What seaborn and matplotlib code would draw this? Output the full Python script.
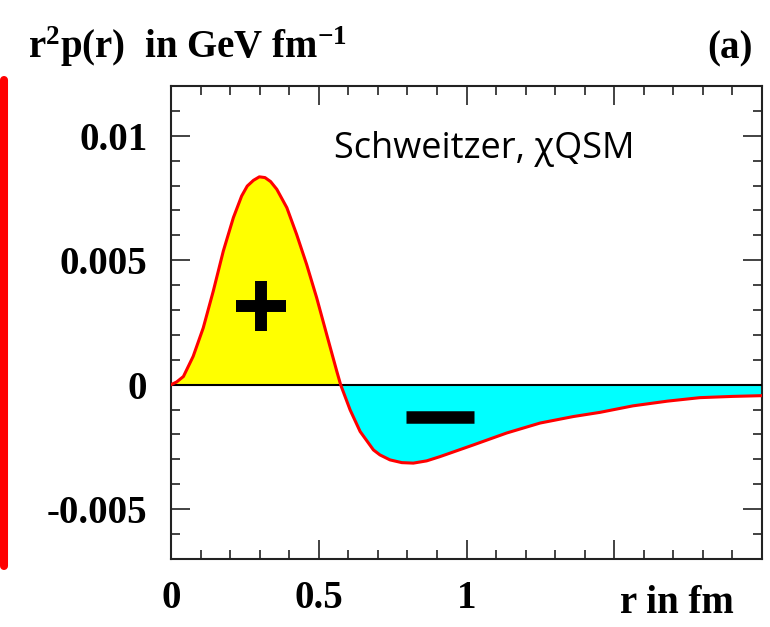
import numpy as np
import pandas as pd
import matplotlib
matplotlib.use("Agg")
import matplotlib.pyplot as plt
import seaborn as sns
from matplotlib.ticker import MultipleLocator, FixedLocator
from matplotlib.lines import Line2D

#***DATOS***

r_fm = [0.0, 0.019, 0.042, 0.075, 0.109, 0.143, 0.177, 0.211, 0.239, 0.258, 0.279, 0.299, 0.318,
        0.337, 0.358, 0.392, 0.425, 0.459, 0.493, 0.527, 0.561, 0.574,
        0.606, 0.640, 0.685, 0.707, 0.741, 0.781, 0.820, 0.865, 0.910, 1.023, 1.136, 1.249,
        1.361, 1.452, 1.563, 1.68, 1.79, 1.90, 2.0]
pres = [0.0, 0.00011, 0.00033, 0.00114, 0.00228, 0.00376, 0.00537, 0.00671, 0.00758, 0.00798, 0.00821,
        0.00835, 0.00832,
        0.00816, 0.00785, 0.00711, 0.00604, 0.00483, 0.00349, 0.00201, 0.00054, 0.0,
        -0.00101, -0.00188, -0.00262, -0.00282, -0.00302, -0.00313, -0.00315, -0.00306, -0.00289,
        -0.00242, -0.00194, -0.00154,
        -0.00128, -0.00111, -0.00085, -0.00066, -0.00052, -0.00047, -0.00044]

xticks = [0, 0.5, 1, 1.5]
xtick_labels = ['0', '0.5', '1', '']
yticks = [-0.005, 0, 0.005, 0.01]
ytick_labels = ['-0.005', '0', '0.005', '0.01']

df = pd.DataFrame({'r': r_fm, 'p': pres})

#***ESTILO***

sns.set_style('ticks')
plt.rcParams['font.family'] = ['Liberation Serif', 'DejaVu Serif']
plt.rcParams['text.color'] = 'black'
plt.rcParams['xtick.color'] = '#222222'
plt.rcParams['ytick.color'] = '#222222'
plt.rcParams['xtick.labelcolor'] = 'black'
plt.rcParams['ytick.labelcolor'] = 'black'
plt.rcParams['mathtext.fontset'] = 'custom'
plt.rcParams['mathtext.rm'] = 'Liberation Serif:bold'
plt.rcParams['mathtext.bf'] = 'Liberation Serif:bold'
plt.rcParams['mathtext.it'] = 'Liberation Serif:bold'

fig = plt.figure(figsize=(7.7, 6.27), dpi=100)
ax = fig.add_axes([0.2221, 0.1085, 0.7675, 0.7544])

#areas positiva y negativa
r = np.array(r_fm)
p = np.array(pres)
ax.fill_between(r, p, 0, where=p >= 0, color='#ffff00', lw=0, interpolate=True)
ax.fill_between(r, p, 0, where=p <= 0, color='#00ffff', lw=0, interpolate=True)
ax.axhline(0, color='black', lw=1.5, zorder=3)
sns.lineplot(data=df, x='r', y='p', color='red', lw=2.2, ax=ax, sort=False, zorder=4)

#signos + y -
ax.plot([0.3046], [0.00316], marker='+', ms=36.5, mew=8.6, color='black', zorder=5)
ax.plot([0.910], [-0.00129], marker='_', ms=49, mew=9, color='black', zorder=5)

ax.set_xlim(0, 2)
ax.set_ylim(-0.007, 0.012)
ax.set_xlabel('')
ax.set_ylabel('')

ax.xaxis.set_major_locator(FixedLocator(xticks))
ax.yaxis.set_major_locator(FixedLocator(yticks))
ax.xaxis.set_minor_locator(MultipleLocator(0.1))
ax.yaxis.set_minor_locator(MultipleLocator(0.001))
ax.set_xticklabels(xtick_labels, fontsize=28, fontweight='bold')
ax.set_yticklabels(ytick_labels, fontsize=28, fontweight='bold')

ax.tick_params(which='both', direction='in', top=True, right=True, color='#222222', width=1.2)
ax.tick_params(which='major', length=14)
ax.tick_params(which='minor', length=6.5)
ax.tick_params(axis='y', which='major', pad=17)
ax.tick_params(axis='x', which='major', pad=15)
for s in ax.spines.values():
    s.set_linewidth(1.5)
    s.set_color('#222222')

#textos
fig.text(734 / 770, 1 - 613 / 627, 'r in fm', ha='right', va='baseline',
         fontsize=28, fontweight='bold')
fig.text(28 / 770, 1 - 58 / 627, r'r$^{\mathbf{2}}$p(r)  in GeV fm$^{\mathbf{-1}}$',
         ha='left', va='baseline', fontsize=28, fontweight='bold')
fig.text(753 / 770, 1 - 58 / 627, '(a)', ha='right', va='baseline', fontsize=28, fontweight='bold')
fig.text(334 / 770, 1 - 158 / 627, 'Schweitzer, χQSM', ha='left', va='baseline',
         fontsize=26, family=['Open Sans', 'DejaVu Sans'])

#barra roja a la izquierda
fig.add_artist(Line2D([4 / 770, 4 / 770], [1 - 80 / 627, 1 - 566 / 627], color='red',
                      lw=5.8, solid_capstyle='round', transform=fig.transFigure))

fig.savefig('out.png', dpi=100)
